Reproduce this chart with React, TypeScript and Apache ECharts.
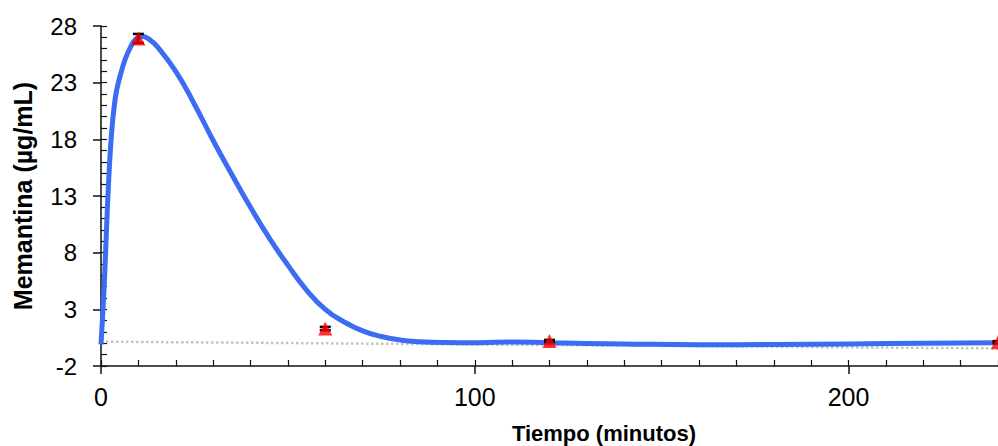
import React, { useEffect, useRef } from "react";
import * as echarts from "echarts";

// Fitted curve (Tiempo, Memantina)
const fitTime = [0, 0.5, 1.0, 1.5, 2.0, 2.5, 3.0, 3.5, 4.0, 4.5, 5.3, 6.4, 8.0, 9.5, 11, 13, 15, 20, 25, 30, 35, 40, 45, 50, 55, 60, 65, 70, 75, 80, 85, 92, 101, 110, 120, 140, 160, 180, 200, 220, 240];
const fitConc = [-0.1, 2.8, 6.2, 10.3, 14.0, 17.0, 19.2, 20.8, 22.0, 22.8, 23.8, 25.0, 26.2, 26.9, 27.1, 26.8, 26.2, 24.0, 21.1, 17.9, 14.9, 12.0, 9.3, 6.9, 4.7, 3.0, 1.9, 1.1, 0.6, 0.3, 0.15, 0.07, 0.05, 0.12, 0.05, -0.05, -0.12, -0.1, -0.05, 0.0, 0.05];

// Grey dotted baseline
const baseTime = [0, 240];
const baseConc = [0.15, -0.45];

// Observed points with error
const obsTime = [10, 60, 120, 240];
const obsConc = [26.9, 1.3, 0.2, 0.1];
const obsErr = [0.4, 0.15, 0.1, 0.1];

// Axes
const xMin = 0, xMax = 240, xMajor = 100, xMinor = 10;
const yMin = -2, yMax = 28, yMajor = 5, yMinor = 1;

const FONT = "'Liberation Sans', Arial, sans-serif";

export default function App() {
  const ref = useRef<HTMLDivElement>(null);
  useEffect(() => {
    if (!ref.current) return;
    const chart = echarts.init(ref.current, null, { renderer: "svg" });
    const axisColor = "#111";
    const option: any = {
      animation: false,
      backgroundColor: "#fff",
      grid: { left: 101, top: 26, right: -3, bottom: 80, containLabel: false },
      xAxis: [
        {
          type: "value", min: xMin, max: xMax, interval: xMinor, position: "bottom",
          axisLine: { show: true, onZero: false, lineStyle: { color: axisColor, width: 1.5 } },
          axisTick: { show: true, inside: true, length: 6, lineStyle: { color: axisColor, width: 1.2 } },
          axisLabel: { show: false },
          splitLine: { show: false },
        },
        {
          type: "value", min: xMin, max: xMax, interval: xMajor, position: "bottom",
          axisLine: { show: false, onZero: false },
          axisTick: { show: true, inside: false, length: 8, lineStyle: { color: axisColor, width: 1.5 } },
          axisLabel: { show: true, showMaxLabel: false, color: "#000", fontSize: 25, fontFamily: FONT, margin: 18 },
          splitLine: { show: false },
        },
      ],
      yAxis: [
        {
          type: "value", min: yMin, max: yMax, interval: yMinor, position: "left",
          axisLine: { show: true, onZero: false, lineStyle: { color: axisColor, width: 1.5 } },
          axisTick: { show: true, inside: true, length: 6, lineStyle: { color: axisColor, width: 1.2 } },
          axisLabel: { show: false },
          splitLine: { show: false },
          name: "Memantina (\u00b5g/mL)",
          nameLocation: "middle",
          nameGap: 66,
          nameTextStyle: { color: "#000", fontSize: 25, fontWeight: "bold", fontFamily: FONT },
        },
        {
          type: "value", min: yMin, max: yMax, interval: yMajor, position: "left",
          axisLine: { show: false, onZero: false },
          axisTick: { show: true, inside: false, length: 8, lineStyle: { color: axisColor, width: 1.5 } },
          axisLabel: { show: true, color: "#000", fontSize: 24, fontFamily: FONT, margin: 24 },
          splitLine: { show: false },
        },
      ],
      graphic: [
        {
          type: "text", x: 604, y: 433,
          style: {
            text: "Tiempo (minutos)", fill: "#000", font: `bold 22px ${FONT}`,
            textAlign: "center", textVerticalAlign: "middle",
          },
        },
      ],
      series: [
        {
          type: "line", xAxisIndex: 0, yAxisIndex: 0,
          data: baseTime.map((t, i) => [t, baseConc[i]]),
          symbol: "none",
          lineStyle: { color: "#c4c4c4", width: 2.5, type: [2.5, 2.5] },
          z: 2,
        },
        {
          type: "line", xAxisIndex: 0, yAxisIndex: 0,
          data: fitTime.map((t, i) => [t, fitConc[i]]),
          symbol: "none", smooth: true,
          lineStyle: { color: "#3b6cf2", width: 5 },
          z: 3,
        },
        {
          type: "custom", xAxisIndex: 0, yAxisIndex: 0,
          data: obsTime.map((t, i) => [t, obsConc[i], obsErr[i]]),
          z: 4,
          renderItem: (params: any, api: any) => {
            const x = api.value(0), y = api.value(1), e = api.value(2);
            const top = api.coord([x, y + e]);
            const bot = api.coord([x, y - e]);
            const hw = 5.5;
            const st = { stroke: "#000", lineWidth: 2.5 };
            return {
              type: "group",
              children: [
                { type: "line", shape: { x1: top[0], y1: top[1], x2: bot[0], y2: bot[1] }, style: st },
                { type: "line", shape: { x1: top[0] - hw, y1: top[1], x2: top[0] + hw, y2: top[1] }, style: st },
                { type: "line", shape: { x1: bot[0] - hw, y1: bot[1], x2: bot[0] + hw, y2: bot[1] }, style: st },
              ],
            };
          },
        },
        {
          type: "scatter", xAxisIndex: 0, yAxisIndex: 0,
          data: obsTime.map((t, i) => [t, obsConc[i]]),
          symbol: "triangle", symbolSize: [14, 14],
          itemStyle: { color: "#ff0000" },
          clip: false,
          z: 5,
        },
      ],
    };
    chart.setOption(option);
    return () => chart.dispose();
  }, []);
  return (
    <div
      ref={ref}
      style={{ position: "fixed", left: 0, top: 0, width: 998, height: 446, background: "#fff" }}
    />
  );
}
